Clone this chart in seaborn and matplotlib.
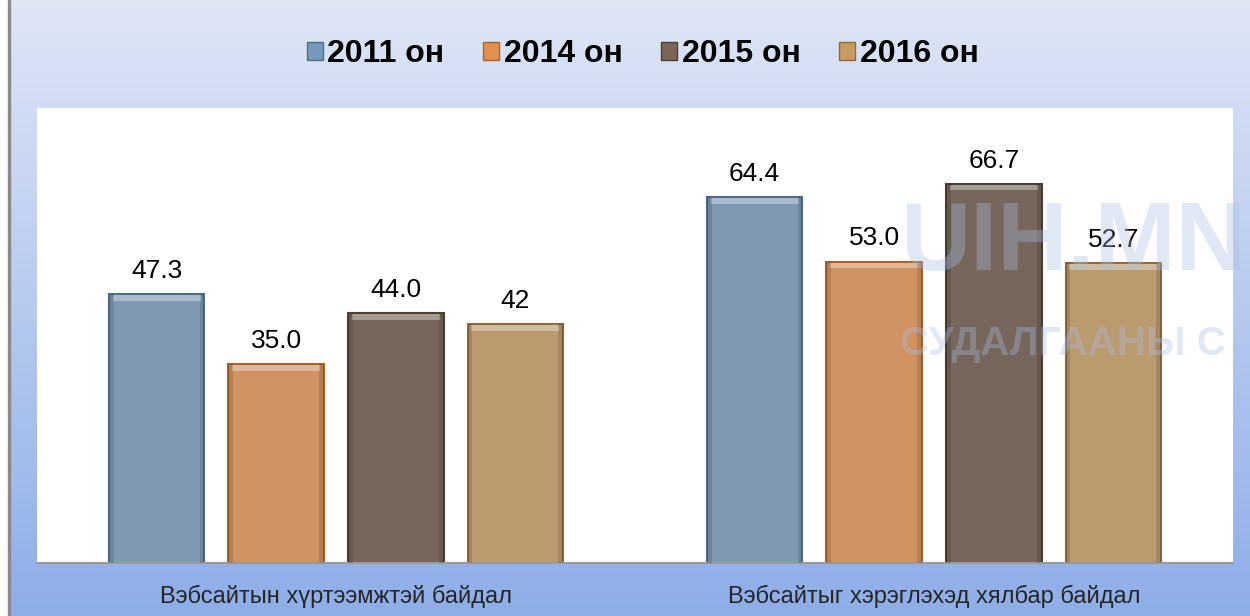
import numpy as np
import pandas as pd
import matplotlib
matplotlib.use('Agg')
import matplotlib.pyplot as plt
import seaborn as sns
from matplotlib.patches import Patch, Rectangle

# data
categories = ['Вэбсайтын хүртээмжтэй байдал', 'Вэбсайтыг хэрэглэхэд хялбар байдал']
years = ['2011 он', '2014 он', '2015 он', '2016 он']
v2011 = [47.3, 64.4]
v2014 = [35.0, 53.0]
v2015 = [44.0, 66.7]
v2016 = [42, 52.7]
labels2011 = ['47.3', '64.4']
labels2014 = ['35.0', '53.0']
labels2015 = ['44.0', '66.7']
labels2016 = ['42', '52.7']

colors = ['#7599ba', '#e2904f', '#7b6556', '#c79b63']
edges = ['#4f6d88', '#a9622a', '#4e3f35', '#8f6b3c']

df = pd.DataFrame({
    'category': categories * 4,
    'year': [y for y in years for _ in categories],
    'value': v2011 + v2014 + v2015 + v2016,
})

sns.set_style('white')
plt.rcParams['font.family'] = ['Liberation Sans', 'DejaVu Sans']

fig = plt.figure(figsize=(12.5, 6.16), dpi=100)

# background gradient
bg = fig.add_axes([0, 0, 1, 1], zorder=-10)
grad = np.linspace(0, 1, 256).reshape(-1, 1)
cmap = matplotlib.colors.LinearSegmentedColormap.from_list('bg', ['#dfe6f6', '#8eaee8'])
bg.imshow(grad, aspect='auto', cmap=cmap, extent=[0, 1, 0, 1], origin='upper')
bg.set_xlim(0, 1)
bg.set_ylim(0, 1)
bg.axis('off')
bg.add_patch(Rectangle((0, 0), 0.0064, 1, color='white', zorder=2))
bg.add_patch(Rectangle((0.0064, 0), 0.0016, 1, color='#8a8a8a', zorder=2))

ax = fig.add_axes([0.0296, 0.086, 0.9568, 0.7387])
ax.set_facecolor('white')
sns.barplot(data=df, x='category', y='value', hue='year', hue_order=years,
            palette=colors, width=0.8, gap=0.2, ax=ax, legend=False)

all_labels = [labels2011, labels2014, labels2015, labels2016]
for i, cont in enumerate(ax.containers):
    for p in cont.patches:
        p.set_edgecolor(edges[i])
        p.set_linewidth(1.5)
        x0, y0 = p.get_x(), p.get_y()
        w, h = p.get_width(), p.get_height()
        # light bevel on top
        ax.add_patch(Rectangle((x0 + w * 0.04, y0 + h - 1.2), w * 0.92, 1.0,
                               color='white', alpha=0.35, lw=0, zorder=3))
        # darker sides
        ax.add_patch(Rectangle((x0, y0), w * 0.05, h, color='black',
                               alpha=0.12, lw=0, zorder=3))
        ax.add_patch(Rectangle((x0 + w * 0.95, y0), w * 0.05, h, color='black',
                               alpha=0.12, lw=0, zorder=3))
    ax.bar_label(cont, labels=all_labels[i], padding=8, fontsize=19,
                 color='black')

ax.set_ylim(0, 80)
ax.set_xlim(-0.5, 1.5)
ax.set_yticks([])
ax.set_xlabel('')
ax.set_ylabel('')
ax.tick_params(axis='x', length=0, labelsize=17, pad=16)
for s in ['top', 'right', 'left']:
    ax.spines[s].set_visible(False)
ax.spines['bottom'].set_color('#9a9a9a')
ax.spines['bottom'].set_linewidth(1.5)

# faint site watermark
fig.text(0.72, 0.53, 'UIH.MN', fontsize=70, fontweight='bold',
         color='#a9bfe3', alpha=0.35, ha='left', va='bottom', zorder=5)
fig.text(0.72, 0.41, 'СУДАЛГААНЫ С', fontsize=29, fontweight='bold',
         color='#a9bfe3', alpha=0.35, ha='left', va='bottom', zorder=5)

handles = [Patch(facecolor=c, edgecolor=e, label=y) for c, e, y in zip(colors, edges, years)]
fig.legend(handles=handles, loc='center', bbox_to_anchor=(0.514, 0.912), ncol=4,
           frameon=False, prop={'weight': 'bold', 'size': 23},
           handlelength=0.5, handleheight=0.5, handletextpad=0.15,
           columnspacing=1.2, labelcolor='black')

fig.savefig('out.png', dpi=100)
